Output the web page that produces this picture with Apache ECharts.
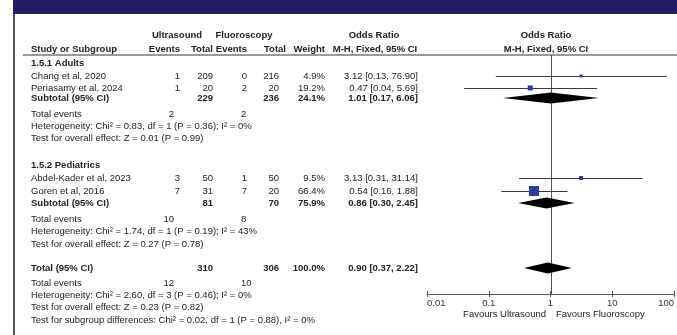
<!DOCTYPE html>
<html>
<head>
<meta charset="utf-8">
<script src="https://cdn.jsdelivr.net/npm/echarts@6/dist/echarts.min.js"></script>
<style>
  html, body { margin: 0; padding: 0; background: #fff; }
  #chart { width: 677px; height: 335px; }
</style>
</head>
<body>
<div id="chart"></div>
<script>
// ---- Study-level data ----
const studyNames = ['Chang et al, 2020', 'Periasamy et al, 2024', 'Abdel-Kader et al, 2023', 'Goren et al, 2016'];
const usEvents = [1, 1, 3, 7];
const usTotal = [209, 20, 50, 31];
const flEvents = [0, 2, 1, 7];
const flTotal = [216, 20, 50, 20];
const studyWeight = [4.9, 19.2, 9.5, 66.4];
const studyOR = [3.12, 0.47, 3.13, 0.54];
const studyLow = [0.13, 0.04, 0.31, 0.16];
const studyHigh = [76.90, 5.69, 31.14, 1.88];

// ---- Pooled estimates (Adults subtotal, Pediatrics subtotal, overall) ----
const pooledNames = ['Subtotal (95% CI)', 'Subtotal (95% CI)', 'Total (95% CI)'];
const pooledUsTotal = [229, 81, 310];
const pooledFlTotal = [236, 70, 306];
const pooledWeight = [24.1, 75.9, 100.0];
const pooledOR = [1.01, 0.86, 0.90];
const pooledLow = [0.17, 0.30, 0.37];
const pooledHigh = [6.06, 2.45, 2.22];
const pooledUsEvents = [2, 10, 12];
const pooledFlEvents = [2, 8, 10];
const heterogeneity = [
  'Heterogeneity: Chi\u00b2 = 0.83, df = 1 (P = 0.36); I\u00b2 = 0%',
  'Heterogeneity: Chi\u00b2 = 1.74, df = 1 (P = 0.19); I\u00b2 = 43%',
  'Heterogeneity: Chi\u00b2 = 2.60, df = 3 (P = 0.46); I\u00b2 = 0%'
];
const overallEffect = [
  'Test for overall effect: Z = 0.01 (P = 0.99)',
  'Test for overall effect: Z = 0.27 (P = 0.78)',
  'Test for overall effect: Z = 0.23 (P = 0.82)'
];
const subgroupTest = 'Test for subgroup differences: Chi\u00b2 = 0.02, df = 1 (P = 0.88), I\u00b2 = 0%';
const subgroupNames = ['1.5.1 Adults', '1.5.2 Pediatrics'];
const tickLabels = ['0.01', '0.1', '1', '10', '100'];
const favoursLabels = ['Favours Ultrasound', 'Favours Fluoroscopy'];

// ---- Row layout (vertical positions in the plotting unit) ----
const studyRows = [76, 88, 178, 191];
const pooledRows = [98, 203, 268];
const sectionRows = [63, 165];
const totalEventRows = [114, 219, 283];
const hetRows = [126, 231, 295];
const effectRows = [138, 244, 307];
const subgroupRow = 320;

const FONT = '"Liberation Sans", Arial, sans-serif';
const SIZE = 9.5;
const INK = '#222';

function txt(x, y, text, align, bold) {
  const font = (bold ? 'bold ' : '') + SIZE + 'px ' + FONT;
  return {
    type: 'text', x: x, y: y, silent: true,
    style: {
      text: String(text), font: font, fill: INK,
      align: align || 'left', verticalAlign: 'middle',
      textAlign: align || 'left', textVerticalAlign: 'middle'
    }
  };
}
const fmt2 = v => v.toFixed(2);
const ciText = (o, l, h) => fmt2(o) + ' [' + fmt2(l) + ', ' + fmt2(h) + ']';

// Column anchors
const COL = { name: 31, usEv: 180, usTot: 213, flEv: 247, flTot: 279, wt: 325, or: 418 };

const graphics = [];
// banner and frame
graphics.push({ type: 'rect', shape: { x: 13, y: 0, width: 664, height: 14 }, style: { fill: '#211d5e' }, silent: true });
graphics.push({ type: 'rect', shape: { x: 13, y: 14, width: 2, height: 321 }, style: { fill: '#555' }, silent: true });
graphics.push({ type: 'rect', shape: { x: 23, y: 54, width: 654, height: 2 }, style: { fill: '#9a9a9a' }, silent: true });

// headers
graphics.push(txt(177, 35, 'Ultrasound', 'center', true));
graphics.push(txt(244, 35, 'Fluoroscopy', 'center', true));
graphics.push(txt(374, 35, 'Odds Ratio', 'center', true));
graphics.push(txt(546, 35, 'Odds Ratio', 'center', true));
graphics.push(txt(COL.name, 49, 'Study or Subgroup', 'left', true));
graphics.push(txt(COL.usEv, 49, 'Events', 'right', true));
graphics.push(txt(COL.usTot, 49, 'Total', 'right', true));
graphics.push(txt(COL.flEv, 49, 'Events', 'right', true));
graphics.push(txt(286, 49, 'Total', 'right', true));
graphics.push(txt(COL.wt, 49, 'Weight', 'right', true));
graphics.push(txt(375, 49, 'M-H, Fixed, 95% CI', 'center', true));
graphics.push(txt(546, 49, 'M-H, Fixed, 95% CI', 'center', true));

// subgroup headings
subgroupNames.forEach((n, i) => graphics.push(txt(COL.name, sectionRows[i], n, 'left', true)));

// study rows
studyNames.forEach((n, i) => {
  const y = studyRows[i];
  graphics.push(txt(COL.name, y, n, 'left'));
  graphics.push(txt(COL.usEv, y, usEvents[i], 'right'));
  graphics.push(txt(COL.usTot, y, usTotal[i], 'right'));
  graphics.push(txt(COL.flEv, y, flEvents[i], 'right'));
  graphics.push(txt(COL.flTot, y, flTotal[i], 'right'));
  graphics.push(txt(COL.wt, y, studyWeight[i].toFixed(1) + '%', 'right'));
  graphics.push(txt(COL.or, y, ciText(studyOR[i], studyLow[i], studyHigh[i]), 'right'));
});

// pooled rows and their summary lines
pooledNames.forEach((n, i) => {
  const y = pooledRows[i];
  graphics.push(txt(COL.name, y, n, 'left', true));
  graphics.push(txt(COL.usTot, y, pooledUsTotal[i], 'right', true));
  graphics.push(txt(COL.flTot, y, pooledFlTotal[i], 'right', true));
  graphics.push(txt(COL.wt, y, pooledWeight[i].toFixed(1) + '%', 'right', true));
  graphics.push(txt(COL.or, y, ciText(pooledOR[i], pooledLow[i], pooledHigh[i]), 'right', true));
  graphics.push(txt(COL.name, totalEventRows[i], 'Total events', 'left'));
  graphics.push(txt(174, totalEventRows[i], pooledUsEvents[i], 'right'));
  graphics.push(txt(241, totalEventRows[i], pooledFlEvents[i], 'left'));
  graphics.push(txt(COL.name, hetRows[i], heterogeneity[i], 'left'));
  graphics.push(txt(COL.name, effectRows[i], overallEffect[i], 'left'));
});
graphics.push(txt(COL.name, subgroupRow, subgroupTest, 'left'));

// favours captions under the axis
graphics.push(txt(546, 314, favoursLabels[0], 'right'));
graphics.push(txt(556, 314, favoursLabels[1], 'left'));

// ---- Plot series data ----
const studyData = studyOR.map((o, i) => [o, studyLow[i], studyHigh[i], studyRows[i], studyWeight[i]]);
const pooledData = pooledOR.map((o, i) => [o, pooledLow[i], pooledHigh[i], pooledRows[i]]);

const PLOT_TOP = 55, PLOT_BOTTOM = 294;

const option = {
  animation: false,
  backgroundColor: '#fff',
  graphic: { elements: graphics },
  grid: { left: 427, right: 2, top: PLOT_TOP, height: PLOT_BOTTOM - PLOT_TOP, containLabel: false },
  xAxis: [{
    type: 'log', logBase: 10, min: 0.01, max: 100,
    axisLine: { show: true, lineStyle: { color: '#555', width: 1 } },
    axisTick: { show: true, length: 3, lineStyle: { color: '#555' } },
    splitLine: { show: false },
    axisLabel: {
      show: true, margin: 4, fontSize: SIZE, fontFamily: FONT, color: '#333',
      alignMinLabel: 'left', alignMaxLabel: 'right',
      formatter: v => {
        const k = Math.round(Math.log10(v)) + 2;
        return tickLabels[k] !== undefined ? tickLabels[k] : '';
      }
    }
  }, {
    type: 'log', logBase: 10, min: 0.01, max: 100, position: 'bottom',
    axisLine: { show: false },
    axisTick: { show: true, inside: true, length: 3, lineStyle: { color: '#555' } },
    axisLabel: { show: false }, splitLine: { show: false }
  }],
  yAxis: {
    type: 'value', inverse: true, min: PLOT_TOP, max: PLOT_BOTTOM, show: false,
    splitLine: { show: false }
  },
  series: [
    {
      // line of no effect
      type: 'custom', xAxisIndex: 0, silent: true,
      data: [[1]],
      renderItem: (params, api) => {
        const top = api.coord([api.value(0), PLOT_TOP]);
        const bot = api.coord([api.value(0), PLOT_BOTTOM]);
        const x = Math.round(top[0]) + 0.5;
        return { type: 'line', shape: { x1: x, y1: top[1], x2: x, y2: bot[1] }, style: { stroke: '#555', lineWidth: 1 } };
      }
    },
    {
      // individual studies: CI whisker + weighted square
      type: 'custom', xAxisIndex: 0, silent: true,
      encode: { x: [0, 1, 2], y: 3 },
      data: studyData,
      renderItem: (params, api) => {
        const yv = api.value(3);
        const p = api.coord([api.value(0), yv]);
        const lo = api.coord([api.value(1), yv]);
        const hi = api.coord([api.value(2), yv]);
        const y = Math.round(p[1]) + 0.5;
        const s = Math.max(2, Math.round(1.2 * Math.sqrt(api.value(4))));
        return {
          type: 'group', children: [
            { type: 'line', shape: { x1: lo[0], y1: y, x2: hi[0], y2: y }, style: { stroke: '#3a3a3a', lineWidth: 1 } },
            { type: 'rect', shape: { x: p[0] - s / 2, y: p[1] - s / 2, width: s, height: s }, style: { fill: '#2f3b98' } }
          ]
        };
      }
    },
    {
      // pooled estimates: diamonds
      type: 'custom', xAxisIndex: 0, silent: true,
      encode: { x: [0, 1, 2], y: 3 },
      data: pooledData,
      renderItem: (params, api) => {
        const yv = api.value(3);
        const p = api.coord([api.value(0), yv]);
        const lo = api.coord([api.value(1), yv]);
        const hi = api.coord([api.value(2), yv]);
        const h = 5.5;
        return {
          type: 'polygon',
          shape: { points: [[lo[0], p[1]], [p[0], p[1] - h], [hi[0], p[1]], [p[0], p[1] + h]] },
          style: { fill: '#000' }
        };
      }
    }
  ]
};

const chart = echarts.init(document.getElementById('chart'), null, { renderer: 'canvas' });
chart.setOption(option);
</script>
</body>
</html>
